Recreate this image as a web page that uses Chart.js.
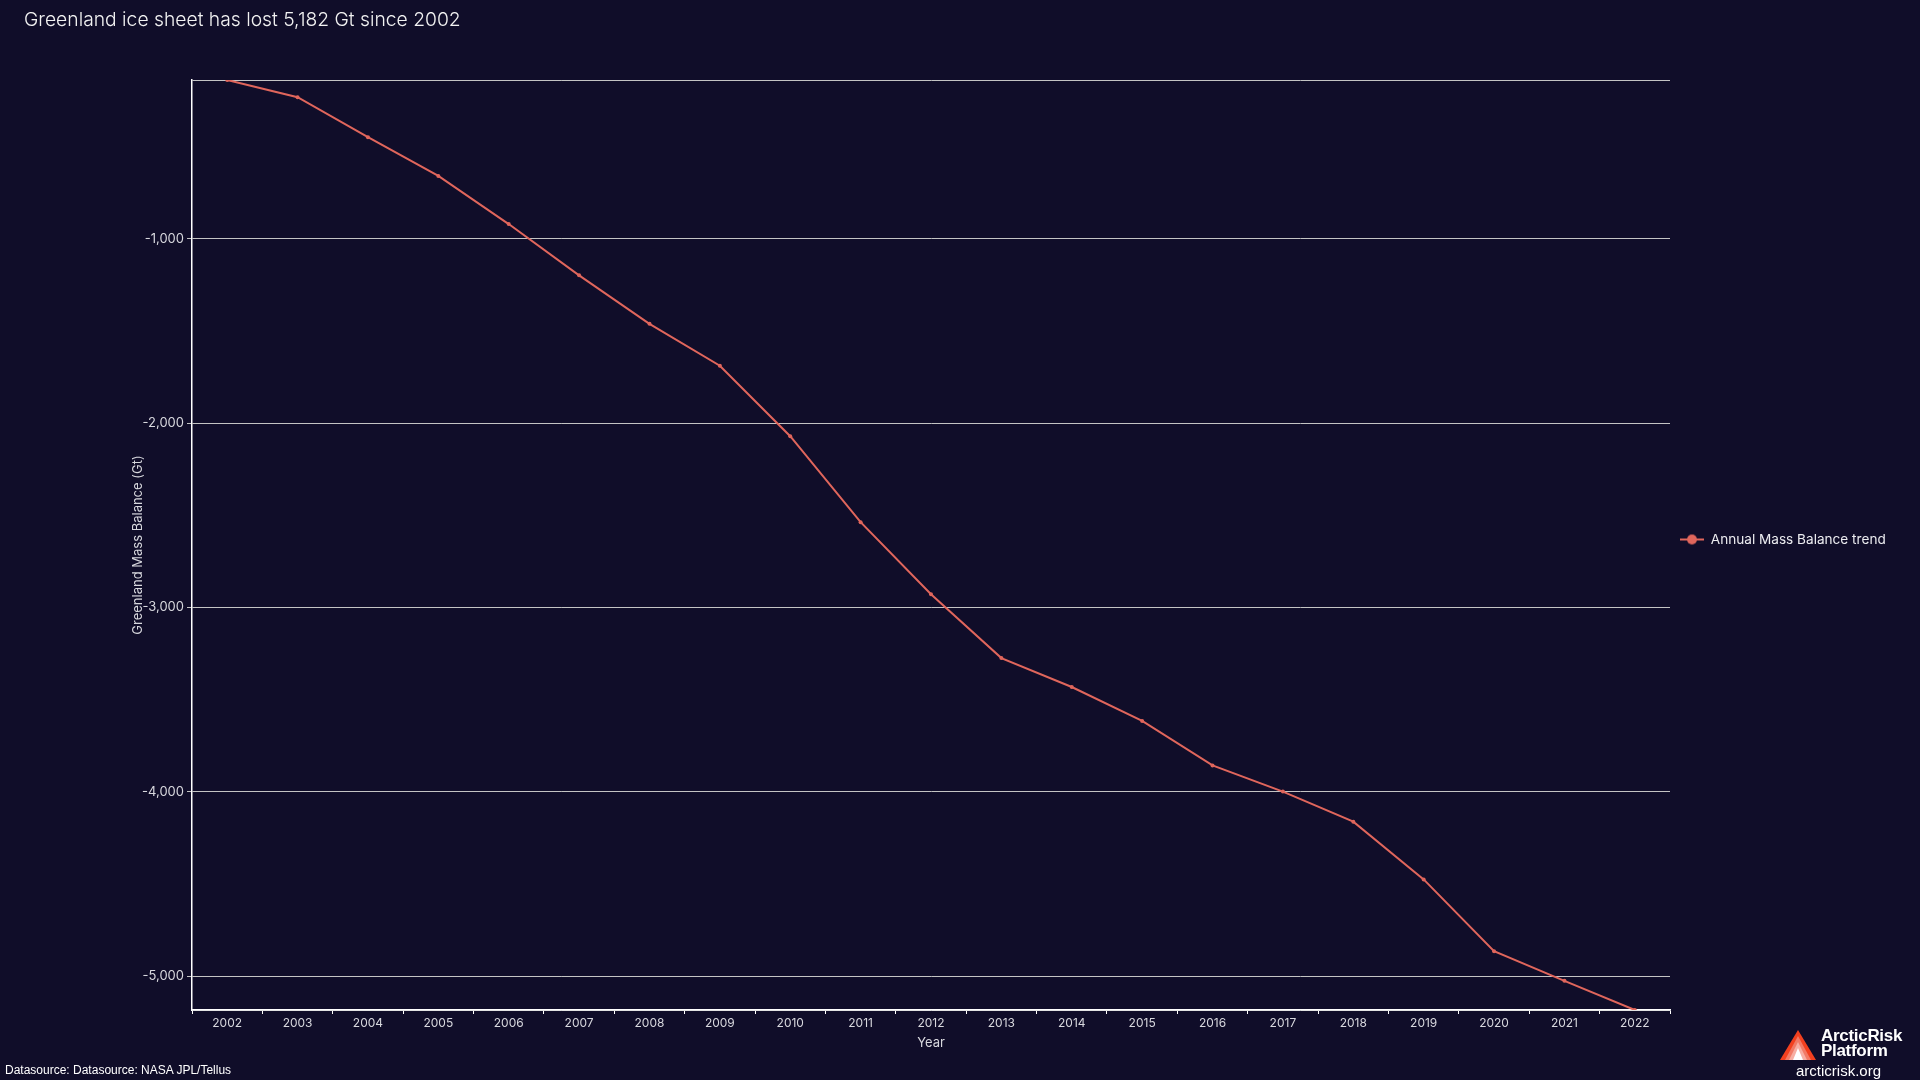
<!DOCTYPE html>
<html>
<head>
<meta charset="utf-8">
<script src="https://cdn.jsdelivr.net/npm/chart.js@4/dist/chart.umd.min.js"></script>
<style>
  html, body { margin: 0; padding: 0; background: #100d29; }
  #wrap { position: relative; width: 1920px; height: 1080px; overflow: hidden; background: #100d29; }
  #chart { position: absolute; left: 0; top: 0; }
  #title { position: absolute; left: 24px; top: 5px; font-family: Inter, "Noto Sans", sans-serif; font-weight: 300; font-size: 19.3px; line-height: 28px; color: #f2f2f2; white-space: nowrap; }
  #source { position: absolute; left: 5px; top: 1063px; font-family: "Liberation Sans", Arial, sans-serif; font-size: 12px; line-height: 15px; color: #ffffff; white-space: nowrap; }
  #logo { position: absolute; left: 1778px; top: 1028px; width: 42px; height: 34px; }
  #logoText { position: absolute; left: 1821px; top: 1028px; font-family: "Liberation Sans", Arial, sans-serif; font-weight: bold; font-size: 17px; line-height: 15px; color: #ffffff; letter-spacing: -0.3px; }
  #site { position: absolute; left: 1796px; top: 1062px; font-family: "Liberation Sans", Arial, sans-serif; font-size: 15px; line-height: 17px; color: #ffffff; }
</style>
</head>
<body>
<div id="wrap">
  <canvas id="chart" width="1920" height="1080"></canvas>
  <div id="title">Greenland ice sheet has lost 5,182 Gt since 2002</div>
  <div id="source">Datasource: Datasource: NASA JPL/Tellus</div>
  <svg id="logo" viewBox="0 0 42 34">
    <polygon points="20,2 2,32 38,32" fill="#f2401f"/>
    <polygon points="20,8 7,32 33,32" fill="#f27a66"/>
    <polygon points="20,14 11,32 29,32" fill="#f7aea3"/>
    <polygon points="20,20 15,32 25,32" fill="#ffffff"/>
  </svg>
  <div id="logoText">ArcticRisk<br>Platform</div>
  <div id="site">arcticrisk.org</div>
</div>
<script>
// ---- data ----
const years = ['2002','2003','2004','2005','2006','2007','2008','2009','2010','2011','2012','2013','2014','2015','2016','2017','2018','2019','2020','2021','2022'];
const massBalance = [-140, -233, -450, -660, -921, -1199, -1462, -1689, -2071, -2537, -2928, -3274, -3431, -3615, -3856, -3998, -4161, -4474, -4863, -5024, -5182];
const yTickValues = [-5000, -4000, -3000, -2000, -1000];
const seriesLabel = 'Annual Mass Balance trend';
const yTitle = 'Greenland Mass Balance (Gt)';
const xTitle = 'Year';

// ---- styles ----
const lineColor = '#e0665c';
const textColor = '#d8d8de';
const gridColor = '#c4c4c4';
const fontFamily = 'Inter, "Noto Sans", sans-serif';

const yMin = Math.min(...massBalance);
const yMax = Math.max(...massBalance);

// legend marker: line with a circle
const marker = document.createElement('canvas');
marker.width = 24; marker.height = 12;
(function () {
  const c = marker.getContext('2d');
  c.strokeStyle = lineColor; c.lineWidth = 2;
  c.beginPath(); c.moveTo(0, 6); c.lineTo(24, 6); c.stroke();
  c.fillStyle = lineColor;
  c.beginPath(); c.arc(12, 6, 5, 0, Math.PI * 2); c.fill();
})();

// compute right padding so plot area ends at x=1670
const legendFontSize = 13.6;
const mctx = document.createElement('canvas').getContext('2d');
mctx.font = legendFontSize + 'px ' + fontFamily;
const legendTextW = mctx.measureText(seriesLabel).width;
const legendW = 10 + 24 + legendFontSize / 2 + legendTextW + 10;
const padRight = Math.max(0, 1920 - 1670 - legendW);

Chart.defaults.font.family = fontFamily;

const legendShift = {
  id: 'legendShift',
  afterLayout(chart) {
    const l = chart.legend;
    if (l) { l.top -= 28; l.bottom -= 28; }
  }
};

new Chart(document.getElementById('chart'), {
  type: 'line',
  data: {
    labels: years,
    datasets: [{
      label: seriesLabel,
      data: massBalance,
      borderColor: lineColor,
      backgroundColor: lineColor,
      borderWidth: 2,
      pointRadius: 2,
      pointBorderWidth: 0,
      pointBackgroundColor: lineColor,
      tension: 0,
      fill: false
    }]
  },
  plugins: [legendShift],
  options: {
    responsive: false,
    animation: false,
    layout: { padding: { left: 126, right: padRight, top: 80, bottom: 25 } },
    plugins: {
      title: { display: false },
      tooltip: { enabled: false },
      legend: {
        position: 'right',
        align: 'center',
        labels: {
          color: '#ececf0',
          font: { size: legendFontSize, family: fontFamily },
          usePointStyle: true,
          pointStyleWidth: 24,
          padding: 10,
          generateLabels: (chart) => chart.data.datasets.map((ds, i) => ({
            text: ds.label,
            fillStyle: lineColor,
            strokeStyle: lineColor,
            fontColor: '#ececf0',
            pointStyle: marker,
            lineWidth: 0,
            datasetIndex: i,
            hidden: false
          }))
        }
      }
    },
    scales: {
      x: {
        type: 'category',
        offset: true,
        grid: { display: true, drawOnChartArea: false, drawTicks: true, tickLength: 4, color: '#ffffff', offset: true },
        border: { display: true, color: '#ffffff', width: 1.5 },
        ticks: { color: textColor, font: { size: 12 }, padding: 2, maxRotation: 0, autoSkip: false },
        title: { display: true, text: xTitle, color: textColor, font: { size: 13 }, padding: 4 },
        afterFit: (s) => { s.height = 45; }
      },
      y: {
        type: 'linear',
        min: yMin,
        max: yMax,
        afterBuildTicks: (s) => {
          s.ticks = [yMin, ...yTickValues, yMax].map(v => ({ value: v }));
        },
        grid: {
          color: gridColor,
          lineWidth: 1,
          drawTicks: true,
          tickLength: 5,
          tickColor: (ctx) => (ctx.tick && yTickValues.includes(ctx.tick.value)) ? gridColor : 'rgba(0,0,0,0)'
        },
        border: { display: true, color: '#ffffff', width: 1.5 },
        ticks: {
          color: textColor,
          font: { size: 13 },
          padding: 3,
          callback: (v) => yTickValues.includes(v) ? v.toLocaleString('en-US') : ''
        },
        title: { display: true, text: yTitle, color: textColor, font: { size: 13 }, padding: 4 },
        afterFit: (s) => { s.width = 66; }
      }
    }
  }
});
</script>
</body>
</html>
